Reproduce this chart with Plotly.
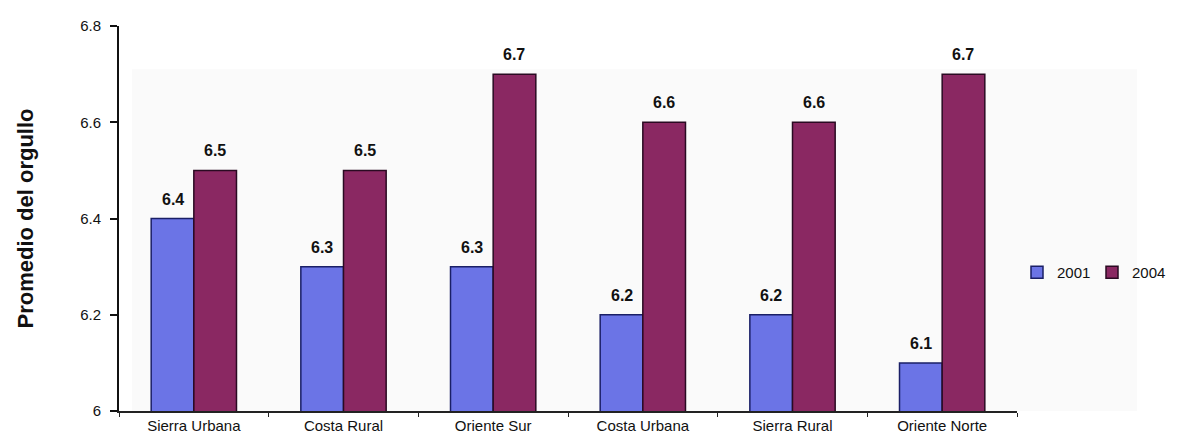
import plotly.graph_objects as go

categories = ["Sierra Urbana", "Costa Rural", "Oriente Sur", "Costa Urbana", "Sierra Rural", "Oriente Norte"]
values_2001 = [6.4, 6.3, 6.3, 6.2, 6.2, 6.1]
values_2004 = [6.5, 6.5, 6.7, 6.6, 6.6, 6.7]
series_names = ["2001", "2004"]
y_ticks = [6.0, 6.2, 6.4, 6.6, 6.8]

W, H = 1177, 442
ML, MR, MT, MB = 111, 168, 18, 39
BARGAP = 0.43
FONT = "Liberation Sans, Arial, sans-serif"

colors = ["#6b74e6", "#8a2862"]
outlines = ["#1a1f66", "#2a0a22"]

fig = go.Figure()
for name, vals, c, oc in zip(series_names, [values_2001, values_2004], colors, outlines):
    fig.add_trace(go.Bar(
        x=categories, y=vals, name=name,
        marker=dict(color=c, line=dict(color=oc, width=1.5)),
    ))

# value labels above bars
plot_w = W - ML - MR
cat_px = plot_w / len(categories)
half = cat_px * (1 - BARGAP) / 4
annotations = []
for k, vals in enumerate([values_2001, values_2004]):
    shift = -half if k == 0 else half
    for cat, v in zip(categories, vals):
        annotations.append(dict(
            x=cat, y=v, xref="x", yref="y", text="<b>%.1f</b>" % v,
            showarrow=False, xshift=shift, yshift=9, yanchor="bottom",
            font=dict(family=FONT, size=16, color="#111111"),
        ))

fig.update_layout(
    width=W, height=H,
    margin=dict(l=ML, r=MR, t=MT, b=MB, autoexpand=False),
    paper_bgcolor="white", plot_bgcolor="rgba(0,0,0,0)",
    barmode="group", bargap=BARGAP, bargroupgap=0,
    font=dict(family=FONT, size=16, color="#111111"),
    annotations=annotations,
    shapes=[dict(type="rect", xref="paper", yref="y", layer="below",
                 x0=(130 - ML - 6) / plot_w, x1=(1135 - ML - 6) / plot_w,
                 y0=6.0, y1=6.71, fillcolor="#fafafa", line=dict(width=0))],
    legend=dict(orientation="h", x=1.0, xanchor="left", y=0.36, yanchor="middle",
                font=dict(size=15), itemwidth=30, entrywidth=30, entrywidthmode="pixels",
                traceorder="normal", bgcolor="rgba(0,0,0,0)"),
    xaxis=dict(
        type="category", showline=True, linecolor="#222222", linewidth=1.5,
        ticks="outside", tickson="boundaries", ticklen=4, tickcolor="#222222",
        tickfont=dict(size=15), showgrid=False,
    ),
    yaxis=dict(
        range=[6.0, 6.8], tickvals=y_ticks, ticktext=["6", "6.2", "6.4", "6.6", "6.8"],
        showline=True, linecolor="#111111", linewidth=2,
        ticks="outside", ticklen=7, tickcolor="#111111", tickwidth=1.5,
        tickfont=dict(size=15), showgrid=False, zeroline=False, ticklabelstandoff=6,
        title=dict(text="<b>Promedio del orgullo</b>", font=dict(size=22), standoff=40),
    ),
)

fig.write_html("out.html")
